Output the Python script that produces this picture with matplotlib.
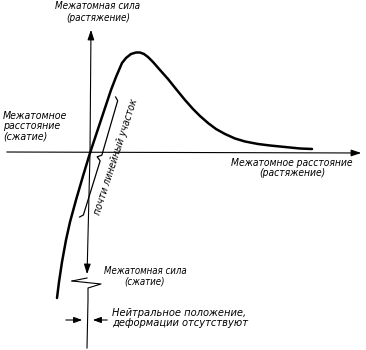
import numpy as np
import matplotlib
matplotlib.use("Agg")
import matplotlib.pyplot as plt

# Force–distance curve (figure pixel coordinates, y downward)
curve_x = [57, 59, 62, 66, 70, 76, 83, 90, 97, 104, 111, 116, 119, 122, 126, 131, 136, 140,
           144, 148, 153, 160, 168, 176, 185, 193, 200, 208, 216, 225, 235, 245, 258, 270,
           285, 300, 312]
curve_y = [298, 282, 262, 240, 222, 200, 176, 153, 132, 111, 90, 77, 70, 63, 58, 54, 52.5, 52.5,
           54, 57, 62, 70, 79, 89, 100, 109, 116, 123, 129, 134, 138.5, 141.5, 144, 145.5,
           147, 148.5, 149]

label_top = "Межатомная сила\n(растяжение)"
label_left = "Межатомное\nрасстояние\n(сжатие)"
label_right = "Межатомное расстояние\n(растяжение)"
label_bottom = "Межатомная сила\n(сжатие)"
label_neutral = "Нейтральное положение,\nдеформации отсутствуют"
label_linear = "почти линейный участок"

fig = plt.figure(figsize=(3.66, 3.5), dpi=100)
ax = fig.add_axes([0, 0, 1, 1])
ax.set_xlim(0, 366)
ax.set_ylim(350, 0)
ax.axis("off")

k = "black"
font = dict(family="DejaVu Sans", style="italic", stretch="condensed", color=k)

# horizontal axis with arrow
ax.annotate("", xy=(364, 153), xytext=(4, 152),
            arrowprops=dict(arrowstyle="-|>,head_length=0.6,head_width=0.2", lw=0.8, color=k))
# vertical axis upward arrow
ax.annotate("", xy=(91, 27), xytext=(90, 153),
            arrowprops=dict(arrowstyle="-|>,head_length=0.6,head_width=0.2", lw=0.8, color=k))
# vertical axis downward arrow
ax.annotate("", xy=(87, 277), xytext=(90, 153),
            arrowprops=dict(arrowstyle="-|>,head_length=0.6,head_width=0.2", lw=0.8, color=k))
# break zigzag and lower continuation
ax.plot([72, 101, 88, 88, 87], [281, 284, 288, 300, 348], color=k, lw=0.8)
ax.plot([72, 87], [281, 278], color=k, lw=0.8)

# neutral position arrows
ax.annotate("", xy=(85, 320), xytext=(63, 320),
            arrowprops=dict(arrowstyle="-|>,head_length=0.5,head_width=0.18", lw=0.8, color=k))
ax.annotate("", xy=(90, 320), xytext=(110, 320),
            arrowprops=dict(arrowstyle="-|>,head_length=0.5,head_width=0.18", lw=0.8, color=k))

# curve
ax.plot(curve_x, curve_y, color=k, lw=1.8, solid_capstyle="round", solid_joinstyle="round")

# curly brace along the linear part
p0 = np.array([119.0, 98.0])
p1 = np.array([83.0, 218.0])
u = (p1 - p0) / np.linalg.norm(p1 - p0)
n = np.array([-u[1], u[0]])
if n[0] > 0:
    n = -n  # point toward the curve (left)
L = np.linalg.norm(p1 - p0)
s_vals = [0, 3, L / 2 - 3, L / 2, L / 2 + 3, L - 3, L]
o_vals = [3.5, 0.5, 0, 4, 0, 0.5, 3.5]
bx = [p0[0] + s * u[0] + o * n[0] for s, o in zip(s_vals, o_vals)]
by = [p0[1] + s * u[1] + o * n[1] for s, o in zip(s_vals, o_vals)]
ax.plot(bx, by, color=k, lw=0.9)

ax.text(116, 157, label_linear, rotation=72, ha="center", va="center",
        rotation_mode="anchor", fontsize=7.4, **font)

# labels
ax.text(98, 12, label_top, ha="center", va="center", linespacing=1.15, fontsize=7.1, **font)
ax.text(3, 126, label_left, ha="left", va="center", linespacing=1.05, fontsize=7.6, **font)
ax.text(292, 168, label_right, ha="center", va="center", linespacing=1.1, fontsize=7.4, **font)
ax.text(145, 276, label_bottom, ha="center", va="center", linespacing=1.1, fontsize=6.9, **font)
ax.text(112, 318, label_neutral, ha="left", va="center", linespacing=1.05, fontsize=7.9, **font)

fig.savefig("out.png", dpi=100)
